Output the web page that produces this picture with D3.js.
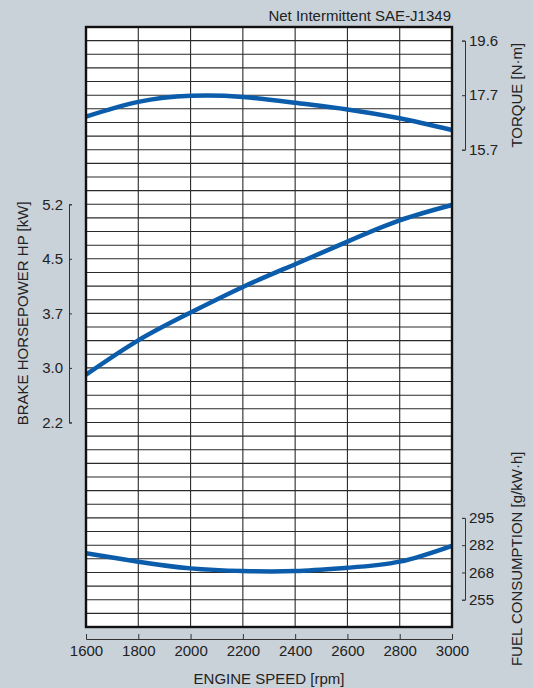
<!DOCTYPE html>
<html>
  <head>
    <meta charset="utf-8">
    <title>Engine performance curves</title>
    <script src="https://d3js.org/d3.v7.min.js"></script>
    <style>
      body { margin: 0; background: #c9d1d9; }
      svg {
        font-family: "Liberation Sans", Arial, sans-serif;
        font-size: 15px;
        fill: #222;
      }
    </style>
  </head>
  <body>
    <div id="chart"></div>
    <script>

      // engine speed (rpm)
      const rpm = [1600, 1800, 2000, 2200, 2400, 2600, 2800, 3000];

      // values
      const torque = [16.88, 17.41, 17.63, 17.59, 17.38, 17.14, 16.82, 16.40];   // N·m
      const power = [2.89, 3.36, 3.74, 4.09, 4.40, 4.71, 5.00, 5.21];            // kW
      const fuel = [277.6, 273.5, 270.2, 268.9, 268.9, 270.5, 273.5, 281.3];     // g/kW·h

      // axis ticks (the printed labels are rounded)
      const rpmTicks = [1600, 1800, 2000, 2200, 2400, 2600, 2800, 3000];
      const torqueTicks = [15.691, 17.652, 19.613];
      const powerTicks = [2.237, 2.983, 3.728, 4.474, 5.220];
      const fuelTicks = [254.8, 268.2, 281.6, 295.0];

      const title = "Net Intermittent SAE-J1349";
      const xTitle = "ENGINE SPEED [rpm]";
      const powerTitle = "BRAKE HORSEPOWER HP [kW]";
      const torqueTitle = "TORQUE [N·m]";
      const fuelTitle = "FUEL CONSUMPTION [g/kW·h]";

      const width = 533;
      const height = 688;
      const plot = {left: 86, right: 452, top: 27, bottom: 627};
      const rows = 44;

      const svg = d3.select("#chart")
        .append("svg")
        .attr("width", width)
        .attr("height", height);

      const x = d3.scaleLinear()
        .domain([1600, 3000])
        .range([plot.left, plot.right]);

      // grid rows, every axis sits on some of them
      const row = d3.scaleLinear()
        .domain([0, rows])
        .range([plot.top, plot.bottom]);

      const yTorque = d3.scaleLinear().domain([15.691, 19.613]).range([row(9), row(1)]);
      const yPower = d3.scaleLinear().domain([2.237, 5.220]).range([row(29), row(13)]);
      const yFuel = d3.scaleLinear().domain([254.8, 295.0]).range([row(42), row(36)]);

      // plot background
      svg.append("rect")
        .attr("x", plot.left)
        .attr("y", plot.top)
        .attr("width", plot.right - plot.left)
        .attr("height", plot.bottom - plot.top)
        .attr("fill", "#fff");

      // grid
      const grid = svg.append("g")
        .attr("stroke", "#2a2a2a")
        .attr("stroke-width", 1.1);

      grid.selectAll(".h")
        .data(d3.range(1, rows))
        .enter().append("line")
        .attr("x1", plot.left)
        .attr("x2", plot.right)
        .attr("y1", d => row(d))
        .attr("y2", d => row(d));

      grid.selectAll(".v")
        .data(rpmTicks.slice(1, -1))
        .enter().append("line")
        .attr("x1", d => x(d))
        .attr("x2", d => x(d))
        .attr("y1", plot.top)
        .attr("y2", plot.bottom);

      // curves
      const series = [
        {values: torque, scale: yTorque},
        {values: power, scale: yPower},
        {values: fuel, scale: yFuel}
      ];

      series.forEach(s => {
        const line = d3.line()
          .x((d, i) => x(rpm[i]))
          .y(d => s.scale(d))
          .curve(d3.curveNatural);
        svg.append("path")
          .datum(s.values)
          .attr("d", line)
          .attr("fill", "none")
          .attr("stroke", "#0b5dab")
          .attr("stroke-width", 4.5)
          .attr("stroke-linecap", "butt");
      });

      // frame
      svg.append("rect")
        .attr("x", plot.left)
        .attr("y", plot.top)
        .attr("width", plot.right - plot.left)
        .attr("height", plot.bottom - plot.top)
        .attr("fill", "none")
        .attr("stroke", "#111")
        .attr("stroke-width", 2.4);

      // axes
      function styleAxis(g) {
        g.selectAll("path, line").attr("stroke", "#333").attr("stroke-width", 1);
        g.selectAll("text")
          .attr("fill", "#222")
          .style("font-size", "15px")
          .style("font-family", "'Liberation Sans', Arial, sans-serif");
      }

      svg.append("g")
        .attr("transform", "translate(0,639)")
        .call(d3.axisTop(x).tickValues(rpmTicks).tickSize(5).tickSizeOuter(5).tickFormat(d3.format("d")))
        .call(styleAxis)
        .call(g => g.selectAll("text").attr("y", 17).attr("dy", 0));

      svg.append("g")
        .attr("transform", "translate(69,0)")
        .call(d3.axisRight(yPower).tickValues(powerTicks).tickSize(3).tickSizeOuter(3).tickFormat(d => d.toFixed(1)))
        .call(styleAxis)
        .call(g => g.selectAll("text").attr("x", -6).attr("text-anchor", "end"));

      svg.append("g")
        .attr("transform", "translate(465,0)")
        .call(d3.axisLeft(yTorque).tickValues(torqueTicks).tickSize(3).tickSizeOuter(3).tickFormat(d => d.toFixed(1)))
        .call(styleAxis)
        .call(g => g.selectAll("text").attr("x", 4).attr("text-anchor", "start"));

      svg.append("g")
        .attr("transform", "translate(465,0)")
        .call(d3.axisLeft(yFuel).tickValues(fuelTicks).tickSize(3).tickSizeOuter(3).tickFormat(d => Math.round(d)))
        .call(styleAxis)
        .call(g => g.selectAll("text").attr("x", 4).attr("text-anchor", "start"));

      // titles
      svg.append("text")
        .attr("x", 451)
        .attr("y", 21)
        .attr("text-anchor", "end")
        .text(title);

      svg.append("text")
        .attr("x", x(2300))
        .attr("y", 684)
        .attr("text-anchor", "middle")
        .text(xTitle);

      svg.append("text")
        .attr("transform", `translate(28,${(yPower.range()[0] + yPower.range()[1]) / 2}) rotate(-90)`)
        .attr("text-anchor", "middle")
        .text(powerTitle);

      svg.append("text")
        .attr("transform", `translate(522,${(yTorque.range()[0] + yTorque.range()[1]) / 2}) rotate(-90)`)
        .attr("text-anchor", "middle")
        .text(torqueTitle);

      svg.append("text")
        .attr("transform", `translate(522,${(yFuel.range()[0] + yFuel.range()[1]) / 2}) rotate(-90)`)
        .attr("text-anchor", "middle")
        .text(fuelTitle);

    </script>
  </body>
</html>
